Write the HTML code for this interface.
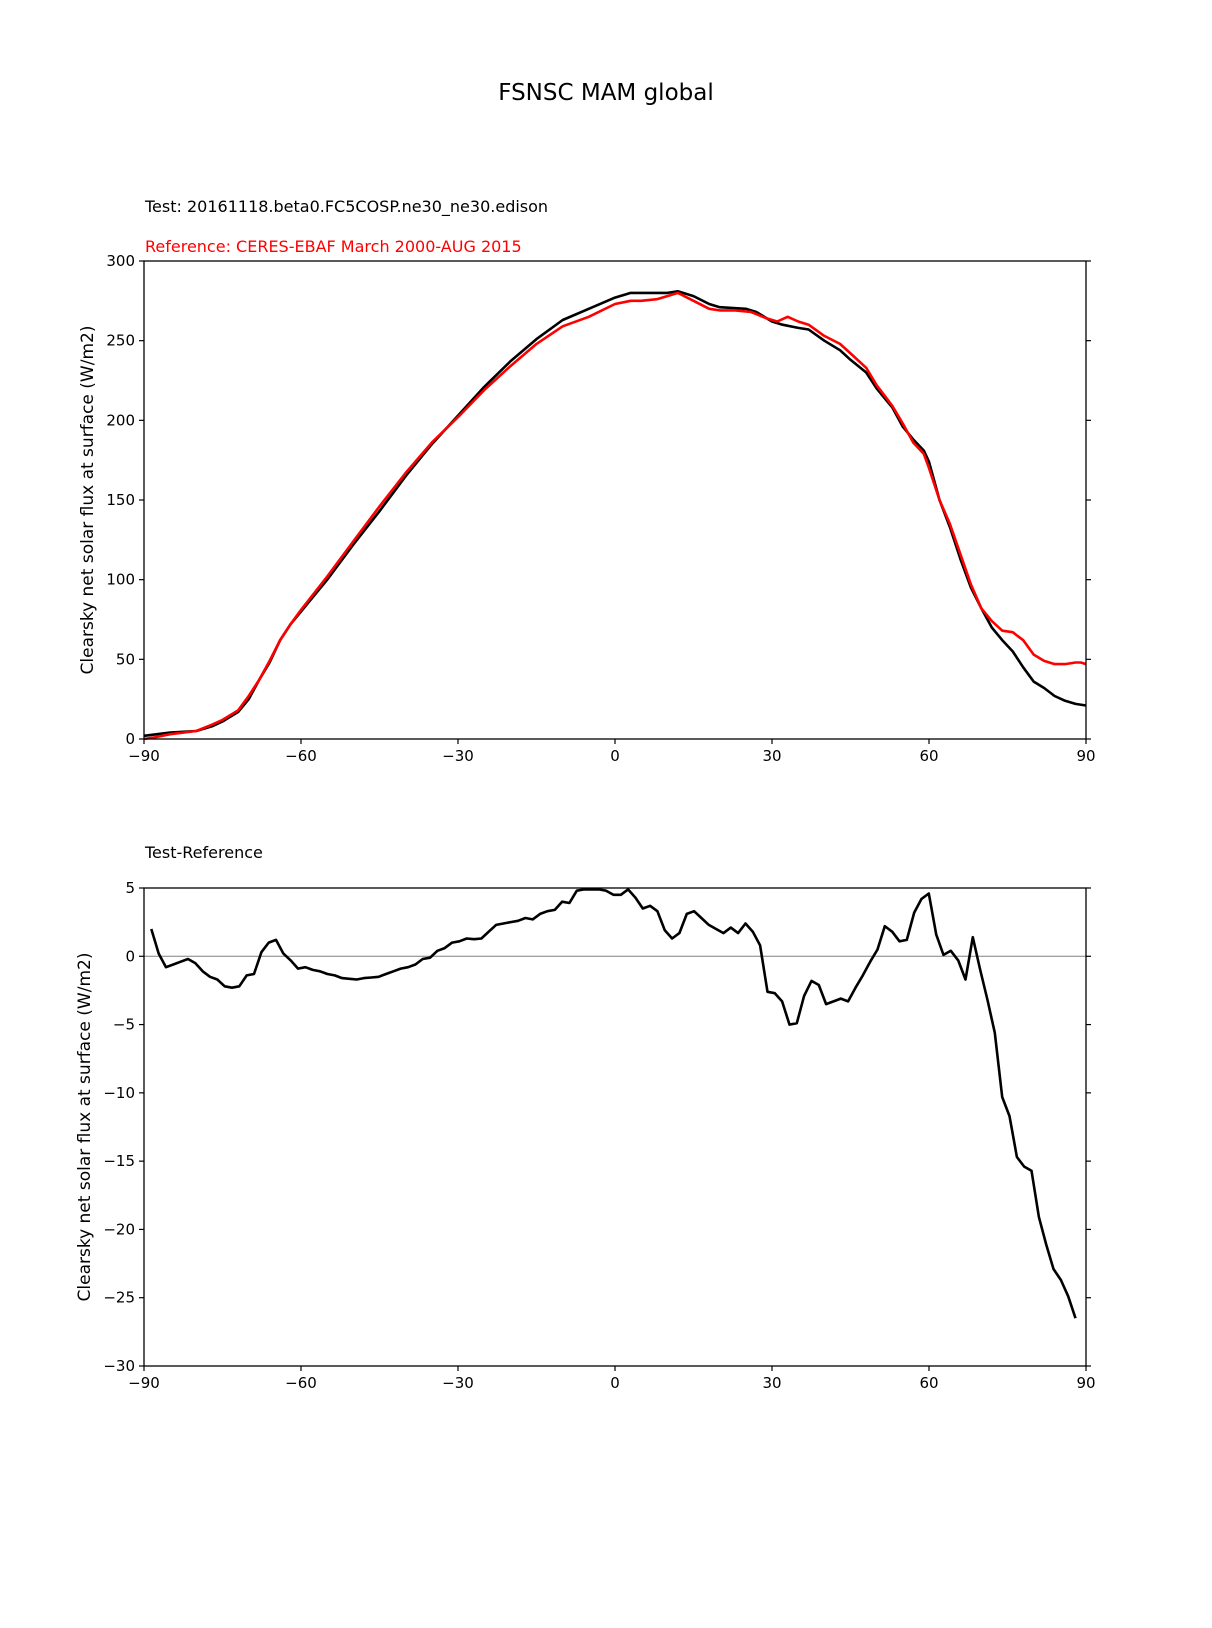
<!DOCTYPE html>
<html><head><meta charset="utf-8">
<style>
html,body{margin:0;padding:0;background:#fff;}
svg{display:block;font-family:"DejaVu Sans","Liberation Sans",sans-serif;}
</style></head>
<body>
<svg id="fig" width="1212" height="1628" viewBox="0 0 1212 1628" xmlns="http://www.w3.org/2000/svg">
<rect width="1212" height="1628" fill="#fff"/>
<text x="606" y="100" font-size="23" text-anchor="middle">FSNSC MAM global</text>
<text x="145" y="212" font-size="16">Test: 20161118.beta0.FC5COSP.ne30_ne30.edison</text>
<text x="145" y="252" font-size="16" fill="#ff0000">Reference: CERES-EBAF March 2000-AUG 2015</text>
<text x="145" y="858" font-size="16">Test-Reference</text>
<text transform="translate(93,500) rotate(-90)" font-size="17" text-anchor="middle">Clearsky net solar flux at surface (W/m2)</text>
<text transform="translate(90,1127) rotate(-90)" font-size="17" text-anchor="middle">Clearsky net solar flux at surface (W/m2)</text>
<g id="top"></g>
<g id="bot"></g>
</svg>
<script>
const xTicks = [-90,-60,-30,0,30,60,90];
const topYTicks = [0,50,100,150,200,250,300];
const botYTicks = [5,0,-5,-10,-15,-20,-25,-30];
const testLat = [-90,-85,-80,-77,-75,-72,-70,-68,-66,-64,-62,-60,-55,-50,-45,-40,-35,-30,-25,-20,-15,-10,-5,0,3,5,10,12,15,18,20,25,27,30,32,35,37,40,43,45,48,50,53,55,57,59,60,62,64,66,68,70,72,74,76,78,80,82,84,86,88,90];
const testVal = [2,4,5,8,11,17,25,37,48,62,72,80,100,122,143,165,185,203,221,237,251,263,270,277,280,280,280,281,278,273,271,270,268,262,260,258,257,250,244,238,230,220,208,196,188,181,174,150,133,113,95,82,70,62,55,45,36,32,27,24,22,21];
const refLat = [-90,-88,-85,-80,-77,-75,-72,-70,-68,-66,-64,-62,-60,-55,-50,-45,-40,-35,-30,-25,-20,-15,-10,-5,0,3,5,8,10,12,15,18,20,23,26,29,31,33,35,37,40,43,45,48,50,53,55,57,59,60,62,64,66,68,70,72,74,76,78,80,82,84,86,88,89,90];
const refVal = [0,1,3,5,9,12,18,27,37,49,62,72,81,102,124,146,167,186,202,219,234,248,259,265,273,275,275,276,278,280,275,270,269,269,268,264,262,265,262,260,253,248,242,233,222,209,198,186,179,170,150,135,116,97,82,74,68,67,62,53,49,47,47,48,48,47];
const diffVal = [2.0,0.2,-0.8,-0.6,-0.4,-0.2,-0.5,-1.1,-1.5,-1.7,-2.2,-2.3,-2.2,-1.4,-1.3,0.3,1.0,1.2,0.2,-0.3,-0.9,-0.8,
-1.0,-1.1,-1.3,-1.4,-1.6,-1.65,-1.7,-1.6,-1.55,-1.5,
-1.3,-1.1,-0.9,-0.8,-0.6,-0.2,-0.1,0.4,0.6,1.0,
1.1,1.3,1.25,1.3,1.8,2.3,2.4,2.5,2.6,2.8,
2.7,3.1,3.3,3.4,4.0,3.9,4.8,4.9,4.9,4.9,
4.8,4.5,4.5,4.9,4.3,3.5,3.7,3.3,1.9,1.3,
1.7,3.1,3.3,2.8,2.3,2.0,1.7,2.1,1.7,2.4,
1.8,0.8,-2.6,-2.7,-3.3,-5.0,-4.9,-2.9,-1.8,-2.1,
-3.5,-3.3,-3.1,-3.3,-2.3,-1.4,-0.4,0.5,2.2,1.8,
1.1,1.2,3.2,4.2,4.6,1.6,0.1,0.4,-0.3,-1.7,
1.4,-1.0,-3.2,-5.6,-10.3,-11.7,-14.7,-15.4,-15.7,-19.1,
-21.1,-22.9,-23.7,-24.9,-26.5];
const diffLatStart = -88.6, diffLatEnd = 88.0;

const NS="http://www.w3.org/2000/svg";
const L=144,R=1086;
function xs(v){return L+(v+90)/180*(R-L);}
function mk(tag,attrs,parent){const e=document.createElementNS(NS,tag);for(const k in attrs)e.setAttribute(k,attrs[k]);parent.appendChild(e);return e;}

function axes(g,top,bot,ymin,ymax,yTicks,prefix){
  const ys=v=>bot-(v-ymin)/(ymax-ymin)*(bot-top);
  xTicks.forEach(t=>{
    const l=mk('line',{x1:xs(t),x2:xs(t),y1:bot,y2:bot+5,stroke:'#000','stroke-width':1.2},g);
    
    
    const tx=mk('text',{x:xs(t),y:bot+22,'font-size':15,'text-anchor':'middle'},g);
    
    
    tx.textContent=(t<0?'\u2212'+(-t):''+t);
  });
  yTicks.forEach(t=>{
    const y=ys(t);
    const l=mk('line',{x1:L-5,x2:L,y1:y,y2:y,stroke:'#000','stroke-width':1.2},g);
    
    
    const r=mk('line',{x1:R,x2:R+5,y1:y,y2:y,stroke:'#000','stroke-width':1.2},g);
    
    
    const tx=mk('text',{x:L-9,y:y+5,'font-size':15,'text-anchor':'end'},g);
    
    
    tx.textContent=(t<0?'\u2212'+(-t):''+t);
  });
  return ys;
}
function line(g,xsArr,ysArr,color,w,name,ys){
  const d=xsArr.map((x,i)=>(i?'L':'M')+xs(x).toFixed(1)+','+ys(ysArr[i]).toFixed(1)).join(' ');
  const p=mk('path',{d:d,fill:'none',stroke:color,'stroke-width':w,'stroke-linejoin':'round'},g);
  
  
}
function frame(g,top,bot,name){
  const r=mk('rect',{x:L,y:top,width:R-L,height:bot-top,fill:'none',stroke:'#000','stroke-width':1.3},g);
  
  
}

const gt=document.getElementById('top');
const ysT=axes(gt,261,739,0,300,topYTicks,'top');
line(gt,testLat,testVal,'#000',2.6,'test-series',ysT);
line(gt,refLat,refVal,'#ff0000',2.6,'reference-series',ysT);
frame(gt,261,739,'top-plot-frame');

const gb=document.getElementById('bot');
const ysB=axes(gb,888,1366,-30,5,botYTicks,'bottom');
const z=mk('line',{x1:L,x2:R,y1:ysB(0),y2:ysB(0),stroke:'#808080','stroke-width':1},gb);


const diffLat=diffVal.map((_,i)=>diffLatStart+i*(diffLatEnd-diffLatStart)/(diffVal.length-1));
line(gb,diffLat,diffVal,'#000',2.6,'difference-series',ysB);
frame(gb,888,1366,'diff-plot-frame');
</script>
</body></html>
